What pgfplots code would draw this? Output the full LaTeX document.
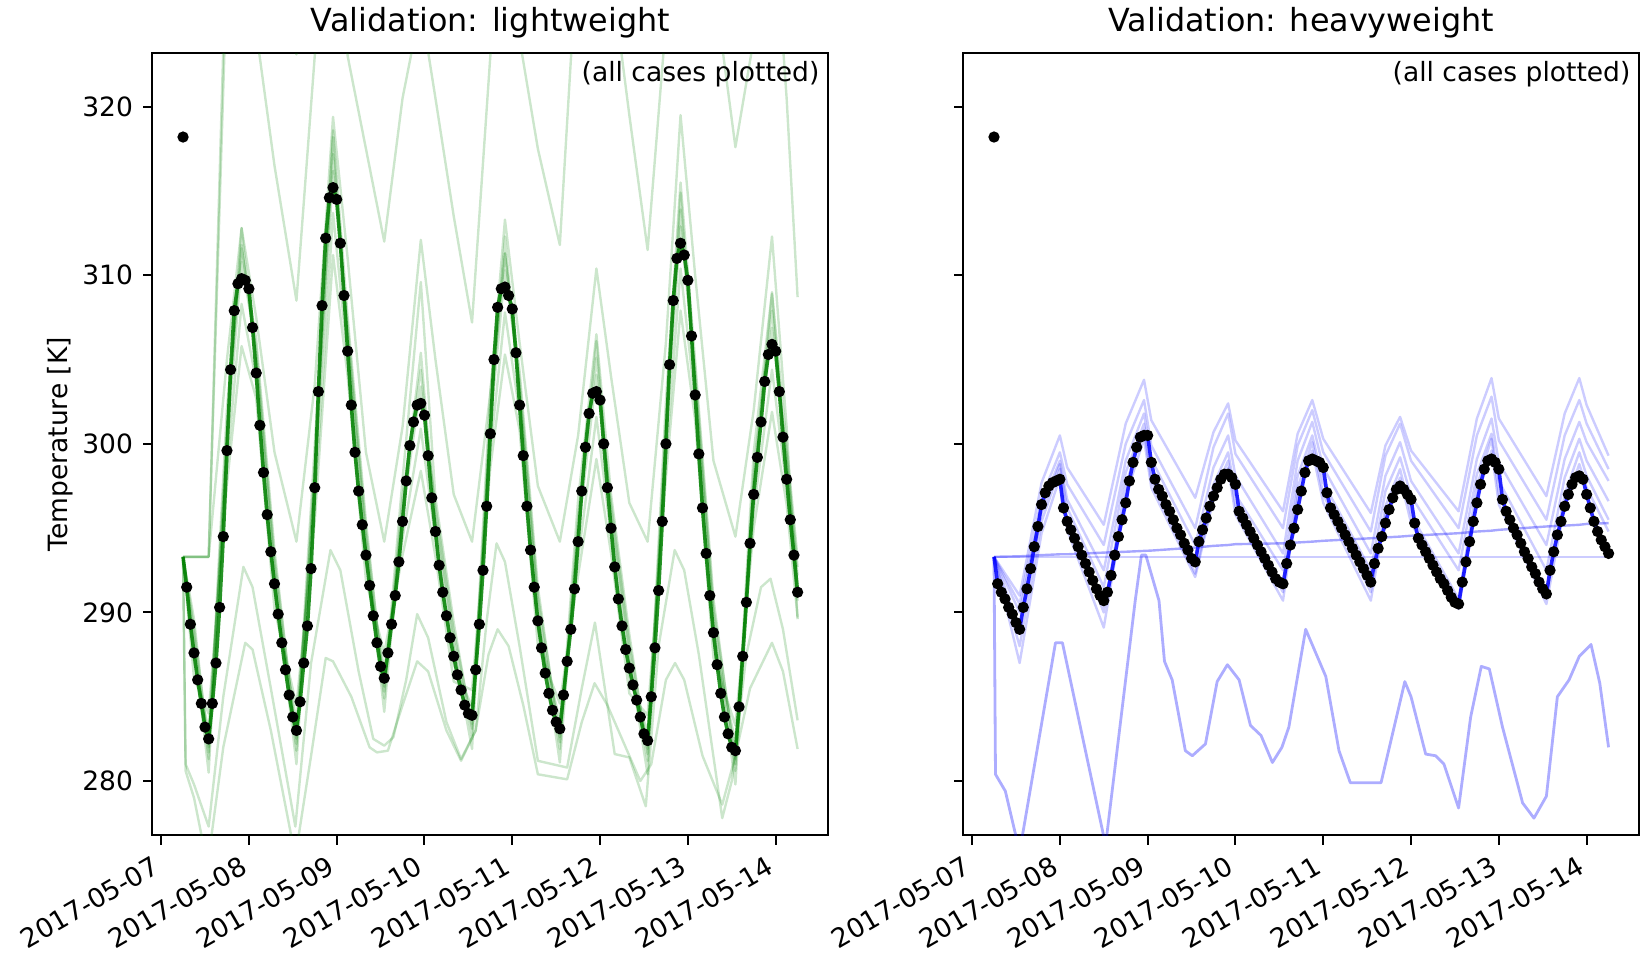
\documentclass[border=0pt]{standalone}
\usepackage{pgfplots}
\pgfplotsset{compat=1.18}
\usepackage{pgfplotstable}
\usepackage{fontspec}
\setmainfont{DejaVu Sans}

\definecolor{simgreen}{rgb}{0,0.5,0}
\definecolor{simblue}{rgb}{0,0,1}

% measured zone temperature, hourly (hours after 2017-05-07 00:00)
\pgfplotstableread[row sep=\\]{
h T\\
7 291.5\\ 8 289.3\\ 9 287.6\\ 10 286.0\\ 11 284.6\\ 12 283.2\\ 13 282.5\\ 14 284.6\\ 15 287.0\\ 16 290.3\\
17 294.5\\ 18 299.6\\ 19 304.4\\ 20 307.9\\ 21 309.5\\ 22 309.8\\ 23 309.7\\ 24 309.2\\ 25 306.9\\ 26 304.2\\
27 301.1\\ 28 298.3\\ 29 295.8\\ 30 293.6\\ 31 291.7\\ 32 289.9\\ 33 288.2\\ 34 286.6\\ 35 285.1\\ 36 283.8\\
37 283.0\\ 38 284.7\\ 39 287.0\\ 40 289.2\\ 41 292.6\\ 42 297.4\\ 43 303.1\\ 44 308.2\\ 45 312.2\\ 46 314.6\\
47 315.2\\ 48 314.5\\ 49 311.9\\ 50 308.8\\ 51 305.5\\ 52 302.3\\ 53 299.5\\ 54 297.2\\ 55 295.2\\ 56 293.4\\
57 291.6\\ 58 289.8\\ 59 288.2\\ 60 286.8\\ 61 286.1\\ 62 287.6\\ 63 289.3\\ 64 291.0\\ 65 293.0\\ 66 295.4\\
67 297.8\\ 68 299.9\\ 69 301.3\\ 70 302.3\\ 71 302.4\\ 72 301.7\\ 73 299.3\\ 74 296.8\\ 75 294.8\\ 76 292.8\\
77 291.2\\ 78 289.8\\ 79 288.5\\ 80 287.4\\ 81 286.3\\ 82 285.4\\ 83 284.5\\ 84 284.0\\ 85 283.9\\ 86 286.6\\
87 289.3\\ 88 292.5\\ 89 296.3\\ 90 300.6\\ 91 305.0\\ 92 308.1\\ 93 309.2\\ 94 309.3\\ 95 308.8\\ 96 308.0\\
97 305.4\\ 98 302.3\\ 99 299.3\\ 100 296.3\\ 101 293.7\\ 102 291.5\\ 103 289.5\\ 104 287.9\\ 105 286.4\\ 106 285.2\\
107 284.2\\ 108 283.5\\ 109 283.1\\ 110 285.1\\ 111 287.1\\ 112 289.0\\ 113 291.4\\ 114 294.2\\ 115 297.2\\ 116 299.8\\
117 301.8\\ 118 303.0\\ 119 303.1\\ 120 302.6\\ 121 300.0\\ 122 297.4\\ 123 295.0\\ 124 292.7\\ 125 290.8\\ 126 289.2\\
127 287.8\\ 128 286.7\\ 129 285.7\\ 130 284.8\\ 131 283.8\\ 132 282.8\\ 133 282.4\\ 134 285.0\\ 135 287.9\\ 136 291.3\\
137 295.4\\ 138 300.0\\ 139 304.7\\ 140 308.5\\ 141 311.0\\ 142 311.9\\ 143 311.2\\ 144 309.7\\ 145 306.4\\ 146 302.9\\
147 299.4\\ 148 296.2\\ 149 293.5\\ 150 291.0\\ 151 288.8\\ 152 286.9\\ 153 285.2\\ 154 283.8\\ 155 282.8\\ 156 282.0\\
157 281.8\\ 158 284.4\\ 159 287.4\\ 160 290.6\\ 161 294.1\\ 162 297.0\\ 163 299.2\\ 164 301.3\\ 165 303.7\\ 166 305.3\\
167 305.9\\ 168 305.5\\ 169 303.1\\ 170 300.4\\ 171 297.9\\ 172 295.5\\ 173 293.4\\ 174 291.2\\
}\lightobs

\pgfplotstableread[row sep=\\]{
h T\\
7 291.7\\ 8 291.2\\ 9 290.8\\ 10 290.3\\ 11 289.9\\ 12 289.4\\ 13 289.0\\ 14 290.3\\ 15 291.4\\ 16 292.6\\
17 293.9\\ 18 295.1\\ 19 296.4\\ 20 297.1\\ 21 297.5\\ 22 297.7\\ 23 297.8\\ 24 297.9\\ 25 296.2\\ 26 295.4\\
27 294.9\\ 28 294.4\\ 29 293.9\\ 30 293.4\\ 31 292.9\\ 32 292.4\\ 33 291.9\\ 34 291.4\\ 35 291.0\\ 36 290.7\\
37 291.2\\ 38 292.2\\ 39 293.4\\ 40 294.5\\ 41 295.5\\ 42 296.5\\ 43 297.8\\ 44 298.9\\ 45 299.8\\ 46 300.4\\
47 300.5\\ 48 300.5\\ 49 298.9\\ 50 297.9\\ 51 297.3\\ 52 296.9\\ 53 296.4\\ 54 296.0\\ 55 295.5\\ 56 295.0\\
57 294.6\\ 58 294.1\\ 59 293.7\\ 60 293.2\\ 61 293.0\\ 62 294.2\\ 63 294.9\\ 64 295.6\\ 65 296.3\\ 66 296.9\\
67 297.4\\ 68 297.9\\ 69 298.2\\ 70 298.2\\ 71 298.0\\ 72 297.6\\ 73 296.0\\ 74 295.6\\ 75 295.2\\ 76 294.8\\
77 294.4\\ 78 294.0\\ 79 293.6\\ 80 293.2\\ 81 292.8\\ 82 292.4\\ 83 292.0\\ 84 291.8\\ 85 291.7\\ 86 292.9\\
87 294.0\\ 88 295.0\\ 89 296.1\\ 90 297.2\\ 91 298.3\\ 92 299.0\\ 93 299.1\\ 94 299.0\\ 95 298.9\\ 96 298.6\\
97 297.1\\ 98 296.2\\ 99 295.8\\ 100 295.4\\ 101 295.0\\ 102 294.6\\ 103 294.2\\ 104 293.8\\ 105 293.4\\ 106 293.0\\
107 292.6\\ 108 292.2\\ 109 291.8\\ 110 292.9\\ 111 293.8\\ 112 294.5\\ 113 295.3\\ 114 296.1\\ 115 296.8\\ 116 297.3\\
117 297.5\\ 118 297.3\\ 119 297.0\\ 120 296.7\\ 121 295.3\\ 122 294.4\\ 123 294.0\\ 124 293.6\\ 125 293.2\\ 126 292.8\\
127 292.4\\ 128 292.0\\ 129 291.7\\ 130 291.3\\ 131 290.9\\ 132 290.6\\ 133 290.5\\ 134 291.8\\ 135 293.0\\ 136 294.2\\
137 295.4\\ 138 296.5\\ 139 297.6\\ 140 298.5\\ 141 299.0\\ 142 299.1\\ 143 298.9\\ 144 298.5\\ 145 296.7\\ 146 296.0\\
147 295.5\\ 148 295.0\\ 149 294.6\\ 150 294.1\\ 151 293.6\\ 152 293.2\\ 153 292.7\\ 154 292.3\\ 155 291.8\\ 156 291.4\\
157 291.1\\ 158 292.5\\ 159 293.6\\ 160 294.6\\ 161 295.4\\ 162 296.3\\ 163 297.0\\ 164 297.6\\ 165 298.0\\ 166 298.1\\
167 297.9\\ 168 297.0\\ 169 296.2\\ 170 295.4\\ 171 294.8\\ 172 294.3\\ 173 293.9\\ 174 293.5\\
}\heavyobs

% lightweight cases
\pgfplotstableread{
h   b1    b2    b3    b4    b5    b6    M1    H1    H2
6   293.3 293.3 293.3 293.3 293.3 293.3 293.3 293.3 293.3
9   288.6 289.1 287.1 288.1 286.1 289.6 293.3 293.3 293.3
13  281.3 282.0 283.0 280.5 284.0 281.7 293.3 293.3 293.3
18  301.1 300.1 298.6 300.4 297.6 302.1 305.0 331.0 328.0
22  311.8 310.8 308.3 312.8 305.8 311.6 312.8 340.0 333.0
26  305.2 305.7 303.7 304.7 302.7 306.2 307.5 334.0 324.5
31  292.7 293.2 291.2 292.2 290.2 293.7 299.5 327.0 316.5
37  281.8 282.5 283.5 281.0 284.5 282.2 294.2 323.1 308.5
42  298.9 297.9 296.4 298.2 295.4 299.9 303.5 333.0 323.0
47  317.2 316.2 313.7 318.2 311.2 318.6 319.4 342.0 333.0
51  306.5 307.0 305.0 306.0 304.0 307.5 311.0 337.0 323.0
56  294.4 294.9 292.9 293.9 291.9 295.4 299.5 331.0 317.5
61  284.9 285.6 286.6 284.1 287.6 285.3 294.2 328.0 312.0
66  296.9 295.9 294.4 296.2 293.4 297.9 301.0 334.0 320.5
71  304.4 303.4 300.9 305.4 298.4 309.6 312.1 340.0 326.0
75  295.8 296.3 294.3 295.3 293.3 296.8 305.0 336.0 320.5
80  288.4 288.9 286.9 287.9 285.9 289.4 297.0 330.0 313.5
85  282.7 283.4 284.4 281.9 285.4 283.1 294.2 327.0 307.2
90  302.1 301.1 299.6 301.4 298.6 303.1 303.0 334.0 323.0
94  311.3 310.3 307.8 312.3 305.3 311.3 313.3 341.0 333.0
98  303.3 303.8 301.8 302.8 300.8 304.3 306.0 337.0 324.0
103 290.5 291.0 289.0 290.0 288.0 291.5 297.5 331.0 317.5
109 281.9 282.6 283.6 281.1 284.6 282.3 294.2 328.0 311.8
114 295.7 294.7 293.2 295.0 292.2 296.7 300.5 334.0 330.0
119 305.1 304.1 301.6 306.1 299.1 306.5 310.4 340.0 333.0
123 296.0 296.5 294.5 295.5 293.5 297.0 304.0 336.0 328.0
128 287.7 288.2 286.2 287.2 285.2 288.7 296.5 331.0 319.5
133 281.2 281.9 282.9 280.4 283.9 281.6 294.2 328.0 311.5
138 301.5 300.5 299.0 300.8 298.0 302.5 306.0 335.0 325.0
142 313.9 312.9 310.4 314.9 307.9 315.5 319.5 342.0 333.0
146 303.9 304.4 302.4 303.4 301.4 304.9 310.0 338.0 332.0
151 289.8 290.3 288.3 289.3 287.3 290.8 299.0 333.0 327.5
157 280.6 281.3 282.3 279.8 283.3 281.0 294.5 329.0 317.6
162 298.5 297.5 296.0 297.8 295.0 299.5 302.0 335.0 324.0
167 307.9 306.9 304.4 308.9 301.9 309.0 312.3 341.0 333.0
171 298.9 299.4 297.4 298.4 296.4 299.9 301.0 336.0 320.5
174 292.2 292.7 290.7 291.7 289.7 293.2 289.6 331.0 308.7
}\lightcases

% heavyweight cases
\pgfplotstableread{
h   u1    u2    u3    u4    u5    u6    F2
6   293.3 293.3 293.3 293.3 293.3 293.3 293.30
13  291.0 290.5 290.0 289.0 288.0 287.0 293.33
19  297.7 296.8 296.3 295.9 295.4 294.7 293.40
24  300.5 299.5 299.0 298.8 298.5 298.0 293.45
26  298.6 297.6 296.7 296.2 295.5 294.9 293.45
36  295.2 294.0 292.5 291.5 290.0 289.1 293.55
42  301.2 300.0 299.0 298.3 297.6 296.9 293.60
47  303.8 302.6 301.8 301.2 300.8 300.3 293.65
49  301.4 299.9 299.1 298.3 297.8 297.4 293.67
61  296.8 295.0 294.0 293.0 292.3 292.1 293.85
66  300.7 299.8 298.6 297.6 297.0 296.7 293.95
70  302.4 301.8 300.5 299.5 299.0 298.6 294.00
72  300.2 299.4 298.1 297.0 296.3 295.8 294.05
85  296.0 295.0 293.5 292.5 291.2 290.7 294.10
89  300.6 299.9 299.0 298.1 297.4 296.9 294.15
93  302.6 302.0 301.3 300.5 300.1 299.6 294.20
96  300.3 299.5 298.6 297.7 297.0 296.5 294.25
109 295.9 294.8 293.5 292.5 291.2 290.7 294.40
113 299.9 299.3 298.1 297.2 296.3 295.8 294.45
117 301.6 301.2 300.1 299.2 298.5 298.0 294.50
120 299.6 299.0 297.8 296.9 295.8 295.3 294.55
133 296.0 295.0 293.5 292.5 290.8 290.2 294.70
138 301.5 300.5 299.1 298.2 297.5 296.8 294.80
142 303.9 302.8 301.5 300.6 300.3 299.6 294.85
144 301.5 300.2 298.9 297.8 297.0 296.4 294.90
157 296.9 295.5 294.0 292.5 291.0 290.5 295.10
162 301.8 300.5 299.1 298.0 297.0 296.3 295.15
166 303.9 302.6 301.3 300.3 299.5 298.8 295.20
168 302.3 301.2 300.1 299.0 298.1 297.4 295.25
174 299.3 298.5 297.8 296.6 295.5 294.8 295.30
}\heavycases

\pgfplotsset{
  tempaxis/.style={
    scale only axis, width=169pt, height=195.6pt,
    xmin=-2.4, xmax=182.4, ymin=276.77, ymax=323.18,
    xtick={0,24,48,72,96,120,144,168},
    xticklabels={2017-05-07,2017-05-08,2017-05-09,2017-05-10,2017-05-11,2017-05-12,2017-05-13,2017-05-14},
    ytick={280,290,300,310,320},
    tick align=outside, xtick pos=left, ytick pos=left,
    major tick length=2.3pt,
    tick style={black, line width=0.5pt},
    axis line style={line width=0.5pt},
    tick label style={font=\fontsize{6.63}{8}\selectfont},
    /pgf/number format/assume math mode=true,
    yticklabel style={anchor=east, inner sep=0pt, xshift=-2.35pt},
    xticklabel style={xshift=-2.4pt, yshift=-2.35pt, rotate=30, anchor=north east, inner sep=0pt},
    every axis title/.style={at={(axis description cs:0.5,1.0275)}, anchor=base, font=\fontsize{7.95}{9.5}\selectfont},
    every axis y label/.style={at={(axis description cs:-0.1262,0.5)}, rotate=90, anchor=base, font=\fontsize{6.63}{8}\selectfont},
  },
  case/.style={line width=0.6pt, opacity=0.2, line join=round},
  mainsim/.style={line width=0.9pt, opacity=0.85, line join=round},
  obs/.style={only marks, mark=*, mark size=1.2pt, mark options={draw=black, fill=black}},
}

\begin{document}
\begin{tikzpicture}
\useasboundingbox (0,0) rectangle (411.5pt,238.75pt);

\begin{axis}[tempaxis, at={(38.08pt,29.88pt)}, anchor=south west,
  title={Validation: lightweight}, ylabel={Temperature [K]}]
  \addplot[case, simgreen] table[x=h, y=H1] {\lightcases};
  \addplot[case, simgreen] table[x=h, y=H2] {\lightcases};
  \addplot[case, simgreen] table[x=h, y=M1] {\lightcases};
  \addplot[case, simgreen] coordinates {
    (6,293.3) (6.7,281.0) (9,279.8) (13,277.3) (17,285.0) (22.5,292.7) (25,291.5) (30,285.5)
    (36.7,277.3) (41,287.0) (46.3,293.7) (49,292.5) (54,286.5) (58,282.5) (61,282.1) (63.5,282.6)
    (67,286.0) (70,289.9) (73,288.5) (78,283.5) (82,281.3) (86,283.0) (89,289.5) (91.7,294.1)
    (94,293.0) (98,288.0) (103,281.2) (111,280.8) (115,285.5) (118.6,289.4) (124,281.6) (128,281.4)
    (132.5,278.5) (136,288.0) (140.4,293.7) (143,292.5) (147,287.5) (153.4,277.8) (156,280.0)
    (160,287.5) (164,291.5) (166.6,292.0) (170,289.0) (174,283.6)};
  \addplot[case, simgreen] coordinates {
    (6,293.3) (6.7,280.6) (9,279.0) (12.7,275.0) (17,282.0) (23,288.2) (25,287.8) (30,283.0)
    (36.7,275.5) (41,281.5) (45,287.3) (47,287.1) (52,285.0) (57,282.0) (59,281.7) (62,281.8)
    (66,284.5) (70,287.1) (73,286.5) (78,283.0) (82,281.2) (86,283.0) (89.5,287.5) (92,289.0)
    (95,288.0) (99,284.5) (103,280.4) (111,280.1) (115,283.5) (118.5,285.8) (122,284.5) (127,282.0)
    (131,280.0) (134,281.0) (138,286.0) (140.5,287.0) (143,286.0) (148,281.5) (153.4,278.6)
    (157,281.5) (161,285.5) (167,288.2) (170,286.5) (174,281.9)};
  \foreach \c in {b1,b2,b3,b4,b5,b6} {
    \addplot[case, simgreen] table[x=h, y=\c] {\lightcases};
  }
  \addplot[mainsim, simgreen] coordinates {(6,293.3) (7,291.5)};
  \addplot[mainsim, simgreen] table[x=h, y=T] {\lightobs};
  \addplot[obs] table[x=h, y=T] {\lightobs};
  \addplot[obs] coordinates {(6,318.2)};
  \node[anchor=north east, inner sep=0pt, font=\fontsize{6.63}{8}\selectfont]
    at (axis description cs:0.988,0.99) {(all cases plotted)};
\end{axis}

\begin{axis}[tempaxis, at={(240.82pt,29.88pt)}, anchor=south west,
  title={Validation: heavyweight}, yticklabels={}]
  \addplot[case, simblue] coordinates {(6,293.3) (174,293.3)};
  \addplot[case, simblue, opacity=0.35] table[x=h, y=F2] {\heavycases};
  \addplot[case, simblue, opacity=0.32, line width=0.7pt] coordinates {
    (6,293.3) (6.4,280.4) (9.1,279.4) (13,275.8) (22.8,288.2) (24.7,288.2) (36.5,276.2) (44.6,290.7)
    (46.3,293.4) (47.5,293.4) (51.1,290.7) (52.6,287.1) (54.7,286.0) (58.3,281.8) (60.2,281.5)
    (63.8,282.2) (67,285.9) (69.8,286.9) (73,286.0) (76.1,283.3) (79,282.7) (82.1,281.1) (84.7,282.0)
    (86.6,283.2) (91.2,289.0) (96.7,286.2) (100.3,281.8) (103.4,279.9) (111.8,279.9) (118.3,285.9)
    (120,285.0) (124,281.6) (126.7,281.5) (129,281.0) (133,278.4) (136.3,283.8) (139.2,286.8)
    (141.4,286.65) (145,283.2) (150.5,278.7) (153.6,277.8) (157,279.1) (160,285.0) (163.2,286.0)
    (166,287.4) (169.2,288.1) (171.6,285.8) (174,282.0)};
  \foreach \c in {u1,u2,u3,u4,u5,u6} {
    \addplot[case, simblue] table[x=h, y=\c] {\heavycases};
  }
  \addplot[mainsim, simblue] coordinates {(6,293.3) (7,291.7)};
  \addplot[mainsim, simblue] table[x=h, y=T] {\heavyobs};
  \addplot[obs] table[x=h, y=T] {\heavyobs};
  \addplot[obs] coordinates {(6,318.2)};
  \node[anchor=north east, inner sep=0pt, font=\fontsize{6.63}{8}\selectfont]
    at (axis description cs:0.988,0.99) {(all cases plotted)};
\end{axis}
\end{tikzpicture}
\end{document}
